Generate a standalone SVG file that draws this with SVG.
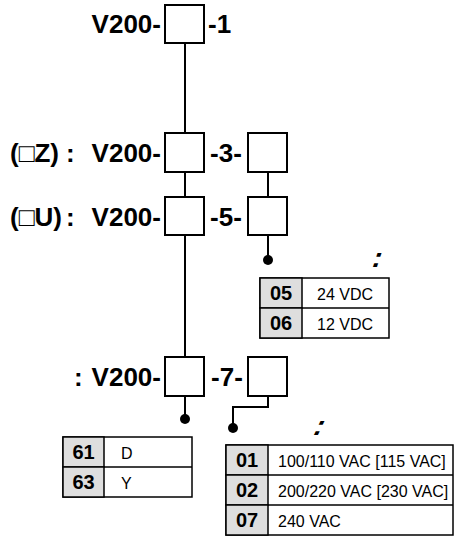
<svg xmlns="http://www.w3.org/2000/svg" width="455" height="538" viewBox="0 0 455 538">
<style>
.lbl{font-family:"Liberation Sans",Arial,sans-serif;font-weight:bold;font-size:26px;fill:#000}
.box{fill:#fff;stroke:#000;stroke-width:2}
.ln{fill:none;stroke:#000;stroke-width:2}
.dot{fill:#000}
.tb{fill:#fff;stroke:#000;stroke-width:1.5}
.code{fill:#dedede;stroke:#000;stroke-width:1.5}
.ct{font-family:"Liberation Sans",Arial,sans-serif;font-weight:bold;font-size:20px;text-anchor:middle}
.vt{font-family:"Liberation Sans",Arial,sans-serif;font-size:16px}
.mk{font-family:"Liberation Sans",Arial,sans-serif;font-weight:bold;font-size:28px;text-anchor:middle}
</style>
<g id="connectors">
<path class="ln" d="M185,43V133M185,172V197M185,235V357M185,396V419"/>
<path class="ln" d="M268,172V197M268,235V260"/>
<path class="ln" d="M268,396V407H233V428"/>
<circle class="dot" cx="185" cy="419" r="5"/>
<circle class="dot" cx="268" cy="260" r="5"/>
<circle class="dot" cx="233" cy="428" r="5"/>
</g>
<g id="row1">
<text class="lbl" x="161" y="33" text-anchor="end">V200-</text>
<rect class="box" x="165" y="5" width="39" height="38"/>
<text class="lbl" x="208" y="33">-1</text>
</g>
<g id="row3">
<text class="lbl" x="10" y="162">(<tspan font-weight="normal">□</tspan>Z)</text>
<text class="lbl" x="66" y="162">:</text>
<text class="lbl" x="161" y="162" text-anchor="end">V200-</text>
<rect class="box" x="165" y="133" width="39" height="39"/>
<text class="lbl" x="226" y="162" text-anchor="middle">-3-</text>
<rect class="box" x="248" y="133" width="39" height="39"/>
</g>
<g id="row5">
<text class="lbl" x="10" y="226">(<tspan font-weight="normal">□</tspan>U)</text>
<text class="lbl" x="66" y="226">:</text>
<text class="lbl" x="161" y="226" text-anchor="end">V200-</text>
<rect class="box" x="165" y="197" width="39" height="38"/>
<text class="lbl" x="226" y="226" text-anchor="middle">-5-</text>
<rect class="box" x="248" y="197" width="39" height="38"/>
</g>
<g id="row7">
<text class="lbl" x="74" y="386">:</text>
<text class="lbl" x="161" y="386" text-anchor="end">V200-</text>
<rect class="box" x="165" y="357" width="39" height="39"/>
<text class="lbl" x="227" y="386" text-anchor="middle">-7-</text>
<rect class="box" x="248" y="357" width="39" height="39"/>
</g>
<g id="mark1">
<text class="mk" transform="translate(375,267) skewX(-18)">:</text>
</g>
<g id="mark2">
<text class="mk" transform="translate(316,435) skewX(-25)">:</text>
</g>
<g id="table-dc">
<rect class="tb" x="260" y="278" width="129" height="60"/>
<rect class="code" x="260" y="278" width="42" height="30"/>
<rect class="code" x="260" y="308" width="42" height="30"/>
<line class="tb" x1="302" y1="308" x2="389" y2="308"/>
<text class="ct" x="281" y="300">05</text>
<text class="vt" x="345" y="300" text-anchor="middle" font-size="17">24 VDC</text>
<text class="ct" x="281" y="330">06</text>
<text class="vt" x="345" y="330" text-anchor="middle" font-size="17">12 VDC</text>
</g>
<g id="table-dy">
<rect class="tb" x="63" y="437" width="129" height="60"/>
<rect class="code" x="63" y="437" width="41" height="30"/>
<rect class="code" x="63" y="467" width="41" height="30"/>
<line class="tb" x1="104" y1="467" x2="192" y2="467"/>
<text class="ct" x="83.5" y="459">61</text>
<text class="vt" x="121" y="459" font-size="17">D</text>
<text class="ct" x="83.5" y="489">63</text>
<text class="vt" x="121" y="489" font-size="17">Y</text>
</g>
<g id="table-ac">
<rect class="tb" x="226" y="445" width="227" height="90"/>
<rect class="code" x="226" y="445" width="42" height="30"/>
<rect class="code" x="226" y="475" width="42" height="30"/>
<rect class="code" x="226" y="505" width="42" height="30"/>
<line class="tb" x1="268" y1="475" x2="453" y2="475"/>
<line class="tb" x1="268" y1="505" x2="453" y2="505"/>
<text class="ct" x="247" y="467">01</text>
<text class="vt" x="278" y="467">100/110 VAC [115 VAC]</text>
<text class="ct" x="247" y="497">02</text>
<text class="vt" x="278" y="497">200/220 VAC [230 VAC]</text>
<text class="ct" x="247" y="527">07</text>
<text class="vt" x="278" y="527">240 VAC</text>
</g>
</svg>
